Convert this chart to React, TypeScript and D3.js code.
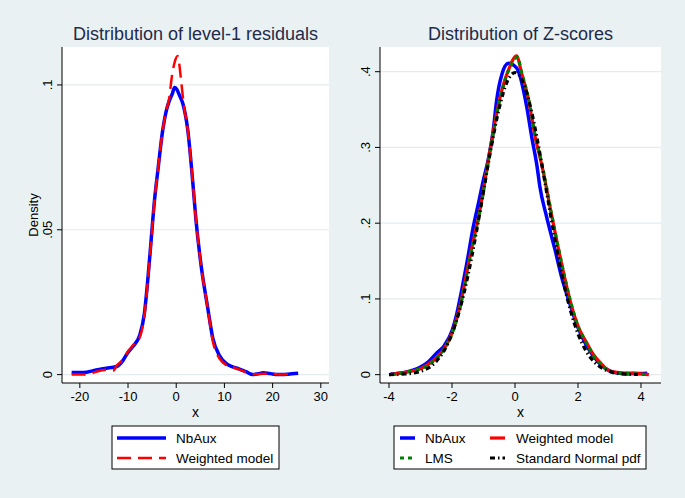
import * as d3 from "d3";

const W = 685;
const H = 498;
const FONT = "'Liberation Sans', Arial, Helvetica, sans-serif";
const BG = "#eaf1f3";
const GRID = "#e4ecef";
const TITLE = "#1e2b4a";

// ---- left panel: level-1 residuals ----
const resXTicks = [-20, -10, 0, 10, 20, 30];
const resYTicks = [0, 0.05, 0.1];
const resYLabels = ["0", ".05", ".1"];

const nbAuxResX = [-21.7, -19.3, -16.6, -14.5, -12.4, -11, -10.2, -9, -7.6, -6.6, -5.9, -5.2, -4.5, -3.8, -2.8, -2, -1.4, -0.8, -0.35, 0.1, 0.68, 1.37, 2.4, 3.4, 4.1, 5.2, 6.5, 7.6, 9, 10.4, 11.7, 13, 14.5, 15.9, 17, 18, 19, 20, 21, 22, 23, 24, 25.3];
const nbAuxResY = [0.0007, 0.0007, 0.0016, 0.0022, 0.0028, 0.005, 0.0072, 0.0097, 0.0135, 0.0212, 0.0327, 0.0465, 0.0603, 0.0706, 0.0844, 0.0915, 0.0947, 0.097, 0.0991, 0.0985, 0.0964, 0.0936, 0.0844, 0.0671, 0.0533, 0.0372, 0.0234, 0.0125, 0.0065, 0.0038, 0.0027, 0.002, 0.001, 0.0, 0.0003, 0.0006, 0.0005, 0.0002, 0.0, 0.0, 0.0001, 0.0003, 0.0005];

const weightedResX = [-21.7, -20, -18, -16.6, -14.5, -13, -12.4, -11, -10.2, -9, -7.6, -6.6, -5.9, -5.2, -4.5, -3.8, -2.8, -2, -1.4, -1, -0.3, 0.3, 1.0, 1.5, 2.4, 3.4, 4.1, 5.2, 6.5, 7.6, 9, 10.4, 11.7, 13, 14.5, 15.9, 17, 18, 20, 22, 23, 24.5];
const weightedResY = [0.0, 0.0, 0.0002, 0.001, 0.0017, 0.0014, 0.003, 0.0053, 0.0076, 0.01, 0.0128, 0.0205, 0.032, 0.046, 0.0603, 0.0706, 0.0844, 0.0915, 0.096, 0.1017, 0.108, 0.11, 0.1017, 0.094, 0.0844, 0.0671, 0.0533, 0.0372, 0.0234, 0.0115, 0.0055, 0.0033, 0.0026, 0.0018, 0.0008, 0.0001, 0.0002, 0.0003, 0.0002, 0.0, 0.0001, 0.0005];

// ---- right panel: Z-scores ----
const zXTicks = [-4, -2, 0, 2, 4];
const zYTicks = [0, 0.1, 0.2, 0.3, 0.4];
const zYLabels = ["0", ".1", ".2", ".3", ".4"];

const nbAuxZX = [-3.95, -3.5, -3, -2.75, -2.5, -2.25, -2, -1.85, -1.69, -1.53, -1.32, -1.13, -1.02, -0.85, -0.69, -0.58, -0.42, -0.21, 0.05, 0.16, 0.37, 0.53, 0.7, 0.79, 1.0, 1.27, 1.48, 1.7, 2.0, 2.25, 2.5, 2.75, 3.0, 3.25, 3.5, 3.75, 4.0, 4.2];
const nbAuxZY = [0.001, 0.003, 0.01, 0.017, 0.028, 0.038, 0.058, 0.08, 0.112, 0.147, 0.196, 0.232, 0.254, 0.284, 0.323, 0.363, 0.396, 0.411, 0.405, 0.394, 0.354, 0.314, 0.275, 0.248, 0.209, 0.165, 0.129, 0.099, 0.062, 0.04, 0.024, 0.012, 0.005, 0.002, 0.001, 0.0015, 0.0015, 0.002];

const weightedZX = [-4, -3.5, -3, -2.75, -2.5, -2.25, -2, -1.75, -1.43, -1.11, -0.79, -0.47, -0.21, 0.05, 0.21, 0.43, 0.64, 0.86, 1.17, 1.43, 1.8, 2.0, 2.25, 2.5, 2.75, 3.0, 3.25, 3.5, 3.75, 4.0, 4.25];
const weightedZY = [0.0, 0.003, 0.008, 0.014, 0.022, 0.034, 0.055, 0.09, 0.156, 0.218, 0.297, 0.367, 0.402, 0.421, 0.398, 0.363, 0.314, 0.275, 0.209, 0.156, 0.09, 0.064, 0.044, 0.026, 0.014, 0.005, 0.003, 0.002, 0.002, 0.001, 0.0];

const lmsZX = [-3.9, -3.5, -3, -2.75, -2.5, -2.25, -2, -1.75, -1.43, -1.11, -0.79, -0.47, -0.21, 0.08, 0.21, 0.43, 0.64, 0.86, 1.17, 1.43, 1.8, 2.0, 2.25, 2.5, 2.75, 3.0, 3.25, 3.5, 3.75, 4.0, 4.25];
const lmsZY = [0.0, 0.003, 0.008, 0.013, 0.021, 0.034, 0.054, 0.088, 0.154, 0.216, 0.295, 0.365, 0.401, 0.419, 0.399, 0.364, 0.316, 0.277, 0.21, 0.157, 0.091, 0.064, 0.043, 0.025, 0.013, 0.004, 0.002, 0.002, 0.001, 0.0005, 0.0];

const normalZX = [-4, -3.5, -3, -2.5, -2.25, -2, -1.75, -1.5, -1.25, -1, -0.75, -0.5, -0.25, 0, 0.25, 0.5, 0.75, 1, 1.25, 1.5, 1.75, 2, 2.25, 2.5, 3, 3.5, 3.9];
const normalZY = [0.0001, 0.0009, 0.0044, 0.0175, 0.0317, 0.054, 0.0863, 0.1295, 0.1826, 0.242, 0.3011, 0.3521, 0.3867, 0.3989, 0.3867, 0.3521, 0.3011, 0.242, 0.1826, 0.1295, 0.0863, 0.054, 0.0317, 0.0175, 0.0044, 0.0009, 0.0002];

type Series = {
  name: string;
  xs: number[];
  ys: number[];
  color: string;
  width: number;
  dash?: string;
};

type LegendItem = { series: Series; x1: number; x2: number; tx: number; y: number };

type PanelProps = {
  left: number;
  right: number;
  top: number;
  bottom: number;
  xDomain: [number, number];
  yDomain: [number, number];
  xTicks: number[];
  yTicks: number[];
  yLabels: string[];
  title: string;
  yTitle?: string;
  series: Series[];
  legendBox: [number, number, number, number];
  legend: LegendItem[];
};

function Panel(p: PanelProps) {
  const x = d3.scaleLinear().domain(p.xDomain).range([p.left, p.right]);
  const y = d3.scaleLinear().domain(p.yDomain).range([p.bottom, p.top]);
  const line = d3
    .line<[number, number]>()
    .x((d) => x(d[0]))
    .y((d) => y(d[1]))
    .curve(d3.curveMonotoneX);
  const midX = (p.left + p.right) / 2;
  const midY = (p.top + p.bottom) / 2;
  const [bx, by, bw, bh] = p.legendBox;

  return (
    <g>
      <text x={midX} y={40} textAnchor="middle" fontSize={18} fill={TITLE}>
        {p.title}
      </text>
      <rect x={p.left} y={p.top} width={p.right - p.left} height={p.bottom - p.top} fill="#ffffff" />
      {p.yTicks.map((t) => (
        <line key={"g" + t} x1={p.left} x2={p.right} y1={y(t)} y2={y(t)} stroke={GRID} strokeWidth={1.2} />
      ))}
      {p.series.map((s) => (
        <path
          key={s.name}
          d={line(s.xs.map((v, i) => [v, s.ys[i]] as [number, number])) || ""}
          fill="none"
          stroke={s.color}
          strokeWidth={s.width}
          strokeDasharray={s.dash}
          strokeLinejoin="round"
        />
      ))}
      {/* axes */}
      <line x1={p.left} x2={p.left} y1={p.top} y2={p.bottom} stroke="#000" strokeWidth={1} />
      <line x1={p.left} x2={p.right} y1={p.bottom} y2={p.bottom} stroke="#000" strokeWidth={1} />
      {p.yTicks.map((t, i) => (
        <g key={"y" + t}>
          <line x1={p.left - 5} x2={p.left} y1={y(t)} y2={y(t)} stroke="#000" />
          <text
            transform={`translate(${p.left - 10},${y(t)}) rotate(-90)`}
            textAnchor="middle"
            fontSize={13}
            fill="#000"
          >
            {p.yLabels[i]}
          </text>
        </g>
      ))}
      {p.xTicks.map((t) => (
        <g key={"x" + t}>
          <line x1={x(t)} x2={x(t)} y1={p.bottom} y2={p.bottom + 5} stroke="#000" />
          <text x={x(t)} y={p.bottom + 18} textAnchor="middle" fontSize={13} fill="#000">
            {t}
          </text>
        </g>
      ))}
      <text x={midX} y={p.bottom + 34} textAnchor="middle" fontSize={14} fill="#000">
        x
      </text>
      {p.yTitle && (
        <text transform={`translate(38,${midY}) rotate(-90)`} textAnchor="middle" fontSize={13} fill="#000">
          {p.yTitle}
        </text>
      )}
      {/* legend */}
      <rect x={bx} y={by} width={bw} height={bh} fill="#ffffff" stroke="#000" strokeWidth={1} />
      {p.legend.map((it) => (
        <g key={"l" + it.series.name}>
          <line
            x1={it.x1}
            x2={it.x2}
            y1={it.y}
            y2={it.y}
            stroke={it.series.color}
            strokeWidth={it.series.width}
            strokeDasharray={it.series.dash}
          />
          <text x={it.tx} y={it.y + 5} fontSize={13.5} fill="#000">
            {it.series.name}
          </text>
        </g>
      ))}
    </g>
  );
}

export default function App() {
  const nbRes: Series = { name: "NbAux", xs: nbAuxResX, ys: nbAuxResY, color: "#0000ff", width: 3.5 };
  const wRes: Series = { name: "Weighted model", xs: weightedResX, ys: weightedResY, color: "#ff0000", width: 2.5, dash: "14 7" };

  const nbZ: Series = { name: "NbAux", xs: nbAuxZX, ys: nbAuxZY, color: "#0000ff", width: 3.5 };
  const wZ: Series = { name: "Weighted model", xs: weightedZX, ys: weightedZY, color: "#ff0000", width: 3.2 };
  const lmsZ: Series = { name: "LMS", xs: lmsZX, ys: lmsZY, color: "#008000", width: 3.2, dash: "4 4" };
  const normZ: Series = { name: "Standard Normal pdf", xs: normalZX, ys: normalZY, color: "#000000", width: 3.2, dash: "5 3 1.5 3" };

  return (
    <svg
      width={W}
      height={H}
      viewBox={`0 0 ${W} ${H}`}
      style={{ position: "absolute", left: 0, top: 0, fontFamily: FONT }}
    >
      <rect x={0} y={0} width={W} height={H} fill={BG} />
      <Panel
        left={62}
        right={329}
        top={47}
        bottom={383}
        xDomain={[-23.7, 31.7]}
        yDomain={[-0.0029, 0.1131]}
        xTicks={resXTicks}
        yTicks={resYTicks}
        yLabels={resYLabels}
        title="Distribution of level-1 residuals"
        yTitle="Density"
        series={[nbRes, wRes]}
        legendBox={[112, 426, 167, 43]}
        legend={[
          { series: nbRes, x1: 117, x2: 166, tx: 176, y: 438 },
          { series: wRes, x1: 117, x2: 166, tx: 176, y: 458 },
        ]}
      />
      <Panel
        left={380}
        right={661}
        top={47}
        bottom={383}
        xDomain={[-4.286, 4.635]}
        yDomain={[-0.011, 0.4326]}
        xTicks={zXTicks}
        yTicks={zYTicks}
        yLabels={zYLabels}
        title="Distribution of Z-scores"
        series={[nbZ, wZ, lmsZ, normZ]}
        legendBox={[394, 426, 252, 43]}
        legend={[
          { series: nbZ, x1: 400, x2: 415, tx: 425, y: 438 },
          { series: wZ, x1: 490, x2: 505, tx: 516, y: 438 },
          { series: lmsZ, x1: 400, x2: 415, tx: 425, y: 458 },
          { series: normZ, x1: 490, x2: 505, tx: 516, y: 458 },
        ]}
      />
    </svg>
  );
}
